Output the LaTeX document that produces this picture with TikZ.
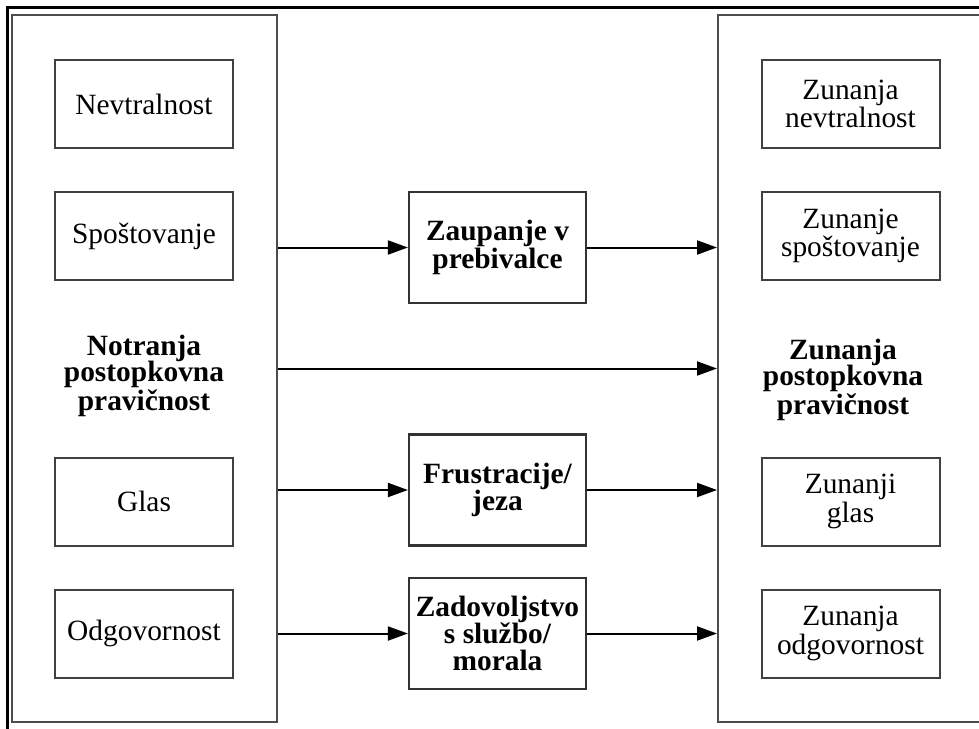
\documentclass[tikz,border=0pt]{standalone}
\usepackage{fontspec}
\setmainfont{Liberation Serif}
\usetikzlibrary{positioning, arrows.meta}

\tikzset{
  smallbox/.style={draw=black!75, line width=1pt, minimum width=89pt, minimum height=44pt,
    align=center, inner sep=2pt, font=\fontsize{14.7}{13}\selectfont},
  midbox/.style={draw=black!80, line width=1.1pt, minimum width=88.5pt, minimum height=55.5pt,
    align=center, inner sep=2pt, font=\fontsize{14.7}{13.6}\selectfont\bfseries},
  bigbox/.style={draw=black!70, line width=1pt, minimum height=353.5pt},
  title/.style={align=center, font=\fontsize{14.7}{13.4}\selectfont\bfseries},
  arr/.style={-{Triangle[length=10pt,width=7pt]}, line width=1pt}
}

\begin{document}
\begin{tikzpicture}[x=0.5pt, y=-0.5pt]
  \useasboundingbox (0,0) rectangle (979,728);
  \clip (0,0) rectangle (979,728);
  % outer frame
  \draw[line width=1.5pt] (7,7) rectangle (1000,750);

  % inner and outer groups
  \node[bigbox, minimum width=132.5pt] (lbig) at (144.5,368.5) {};
  \node[bigbox, minimum width=136pt] (rbig) at (854,368.5) {};
  \node[title] (ltitle) at (144,376) {Notranja\\postopkovna\\pravičnost};
  \node[title] (rtitle) at (843,380) {Zunanja\\postopkovna\\pravičnost};

  % left components
  \node[smallbox] (nevtr) at (144,104) {Nevtralnost};
  \node[smallbox] (spost) at (144,236) {Spoštovanje};
  \node[smallbox] (glas) at (144,501.5) {Glas};
  \node[smallbox] (odgov) at (144,633.5) {Odgovornost};

  % right components
  \node[smallbox] (znevtr) at (850.5,104) {Zunanja\\nevtralnost};
  \node[smallbox] (zspost) at (850.5,236) {Zunanje\\spoštovanje};
  \node[smallbox] (zglas) at (850.5,501.5) {Zunanji\\glas};
  \node[smallbox] (zodgov) at (850.5,633.5) {Zunanja\\odgovornost};

  % mediators
  \node[midbox] (zaup) at (497.5,247.5) {Zaupanje v\\prebivalce};
  \node[midbox] (frust) at (497.5,490) {Frustracije/\\jeza};
  \node[midbox] (zadov) at (497.5,633.5) {Zadovoljstvo\\s službo/\\morala};

  % connectors
  \draw[arr] (lbig.east |- zaup) -- (zaup.west);
  \draw[arr] (zaup.east) -- (rbig.west |- zaup);
  \draw[arr] (lbig.east) -- (rbig.west);
  \draw[arr] (lbig.east |- frust) -- (frust.west);
  \draw[arr] (frust.east) -- (rbig.west |- frust);
  \draw[arr] (lbig.east |- zadov) -- (zadov.west);
  \draw[arr] (zadov.east) -- (rbig.west |- zadov);
\end{tikzpicture}
\end{document}
